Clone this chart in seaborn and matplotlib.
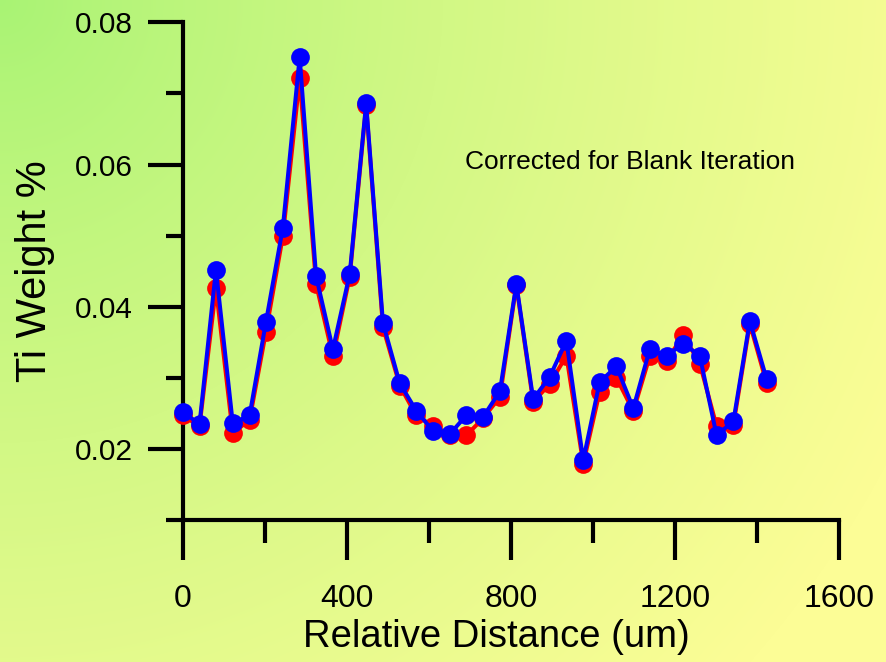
import numpy as np
import pandas as pd
import matplotlib
matplotlib.use("Agg")
import matplotlib.pyplot as plt
import seaborn as sns
from matplotlib.ticker import MultipleLocator

# Relative distance along the traverse (um)
distance = [0, 41, 81, 122, 163, 203, 244, 285, 325, 366, 407, 447,
            488, 529, 569, 610, 651, 691, 732, 773, 813, 854, 894, 935,
            976, 1016, 1057, 1098, 1138, 1179, 1220, 1260, 1301, 1342, 1382, 1423]

# Ti weight % before blank correction (red)
ti_raw = [0.0247, 0.0232, 0.0426, 0.0222, 0.0241, 0.0365, 0.0499, 0.0721,
          0.0432, 0.0330, 0.0442, 0.0683, 0.0371, 0.0289, 0.0247, 0.0232,
          0.0220, 0.0219, 0.0243, 0.0273, 0.0430, 0.0266, 0.0291, 0.0331,
          0.0179, 0.0280, 0.0300, 0.0253, 0.0330, 0.0324, 0.0360, 0.0320,
          0.0232, 0.0234, 0.0376, 0.0292]

# Ti weight % corrected for blank iteration (blue)
ti_corrected = [0.0252, 0.0235, 0.0452, 0.0236, 0.0247, 0.0379, 0.0511, 0.0751,
                0.0443, 0.0340, 0.0446, 0.0686, 0.0377, 0.0292, 0.0254, 0.0225,
                0.0221, 0.0247, 0.0245, 0.0281, 0.0432, 0.0270, 0.0301, 0.0352,
                0.0184, 0.0294, 0.0316, 0.0257, 0.0340, 0.0331, 0.0348, 0.0331,
                0.0219, 0.0239, 0.0380, 0.0298]

x_ticks = [0, 400, 800, 1200, 1600]
x_tick_labels = ["0", "400", "800", "1200", "1600"]
y_ticks = [0.02, 0.04, 0.06, 0.08]
y_tick_labels = ["0.02", "0.04", "0.06", "0.08"]

sns.set_style("ticks")
plt.rcParams["font.family"] = ["Liberation Sans", "DejaVu Sans"]
plt.rcParams["text.color"] = "black"
plt.rcParams["axes.labelcolor"] = "black"

df = pd.DataFrame({"distance": distance, "raw": ti_raw, "corrected": ti_corrected})

W, H = 887, 662
fig = plt.figure(figsize=(W / 100, H / 100), dpi=100)

# green-to-yellow backdrop spreading from the top-left corner
bg = fig.add_axes([0, 0, 1, 1], zorder=-10)
yy, xx = np.mgrid[0:H, 0:W]
t = np.clip(np.sqrt(xx ** 2 + (yy * 1.0) ** 2) / 1000.0, 0, 1) ** 0.85
c0 = np.array([168, 243, 116]) / 255.0
c1 = np.array([252, 253, 150]) / 255.0
img = c0[None, None, :] + (c1 - c0)[None, None, :] * t[..., None]
bg.imshow(img, extent=[0, W, H, 0], aspect="auto", interpolation="bilinear")
bg.set_axis_off()

ax = fig.add_axes([182.7 / W, (H - 520) / H, (839.3 - 182.7) / W, (520 - 22.3) / H])
ax.set_facecolor("none")

line_kw = dict(marker="o", markersize=13.5, markeredgewidth=0, linewidth=2.9,
               clip_on=False, zorder=5)
sns.lineplot(data=df, x="distance", y="raw", color="#ff0000", ax=ax, **line_kw)
line_kw["zorder"] = 6
sns.lineplot(data=df, x="distance", y="corrected", color="#0000ff", ax=ax, **line_kw)

ax.set_xlim(0, 1600)
ax.set_ylim(0.01, 0.08)
ax.set_xticks(x_ticks)
ax.set_xticklabels(x_tick_labels, family=["Liberation Sans Narrow", "Liberation Sans"],
                   fontsize=23)
ax.set_yticks(y_ticks)
ax.set_yticklabels(y_tick_labels, fontsize=21.5)
ax.xaxis.set_minor_locator(MultipleLocator(200))
ax.yaxis.set_minor_locator(MultipleLocator(0.01))

for side in ("top", "right"):
    ax.spines[side].set_visible(False)
for side in ("left", "bottom"):
    ax.spines[side].set_linewidth(3)
    ax.spines[side].set_color("black")

ax.tick_params(axis="x", which="major", direction="out", length=29, width=3,
               pad=17, colors="black")
ax.tick_params(axis="x", which="minor", direction="out", length=16.5, width=3,
               colors="black")
ax.tick_params(axis="y", which="major", direction="out", length=25, width=3,
               pad=11, colors="black")
ax.tick_params(axis="y", which="minor", direction="out", length=12.5, width=3,
               colors="black")

ax.set_xlabel("Relative Distance (um)", fontsize=27.5, color="black")
ax.xaxis.set_label_coords((496 - 182.7) / (839.3 - 182.7), -(637 - 520) / (520 - 22.3))
ax.xaxis.label.set_va("center")
ax.set_ylabel("Ti Weight %", fontsize=30, labelpad=14, color="black")

ax.text(1090, 0.0603, "Corrected for Blank Iteration", fontsize=19,
        ha="center", va="center", color="black")

fig.savefig("out.png", dpi=100)
